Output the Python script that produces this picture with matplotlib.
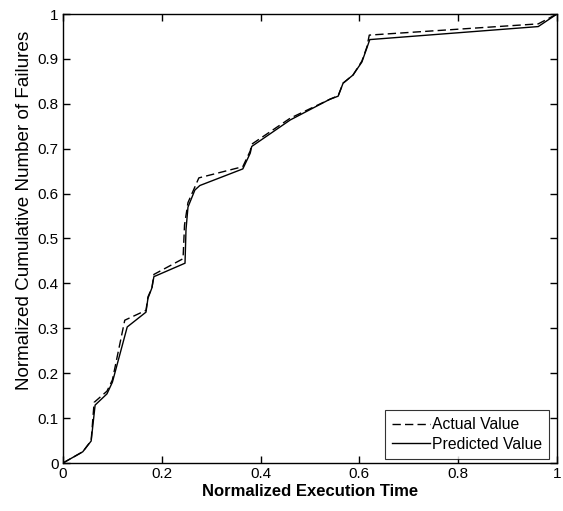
import matplotlib
matplotlib.use("Agg")
import matplotlib.pyplot as plt

x_pred = [0, 0.04, 0.057, 0.065, 0.089, 0.10, 0.13, 0.168, 0.172, 0.18, 0.184, 0.247, 0.249, 0.253,
          0.267, 0.277, 0.364, 0.379, 0.382, 0.46, 0.54, 0.557, 0.567, 0.587, 0.605, 0.615, 0.621, 0.962, 1.0]
y_pred = [0, 0.025, 0.049, 0.129, 0.154, 0.18, 0.303, 0.336, 0.367, 0.39, 0.415, 0.445, 0.52, 0.57,
          0.608, 0.618, 0.655, 0.69, 0.705, 0.764, 0.81, 0.817, 0.846, 0.864, 0.893, 0.924, 0.943, 0.972, 1.0]

x_act = [0, 0.04, 0.057, 0.063, 0.089, 0.10, 0.125, 0.168, 0.172, 0.18, 0.184, 0.243, 0.246, 0.253,
         0.267, 0.275, 0.364, 0.379, 0.382, 0.46, 0.54, 0.557, 0.567, 0.587, 0.605, 0.615, 0.62, 0.962, 1.0]
y_act = [0, 0.025, 0.05, 0.135, 0.16, 0.185, 0.318, 0.34, 0.37, 0.39, 0.42, 0.455, 0.53, 0.58,
         0.615, 0.635, 0.66, 0.695, 0.71, 0.768, 0.81, 0.818, 0.846, 0.864, 0.895, 0.926, 0.953, 0.978, 1.0]

xticks = [0, 0.2, 0.4, 0.6, 0.8, 1]
xtick_labels = ["0", "0.2", "0.4", "0.6", "0.8", "1"]
yticks = [0, 0.1, 0.2, 0.3, 0.4, 0.5, 0.6, 0.7, 0.8, 0.9, 1]
ytick_labels = ["0", "0.1", "0.2", "0.3", "0.4", "0.5", "0.6", "0.7", "0.8", "0.9", "1"]

plt.rcParams['font.family'] = ['Liberation Sans', 'DejaVu Sans']

fig = plt.figure(figsize=(5.63, 5.11), dpi=100)
ax = fig.add_axes([63/563, 48/511, 494/563, 449/511])

ax.plot(x_act, y_act, color='black', linestyle=(0, (6, 3)), linewidth=1.0, label='Actual Value')
ax.plot(x_pred, y_pred, color='black', linestyle='-', linewidth=1.0, label='Predicted Value')

ax.set_xlim(0, 1)
ax.set_ylim(0, 1)
ax.set_xticks(xticks)
ax.set_xticklabels(xtick_labels)
ax.set_yticks(yticks)
ax.set_yticklabels(ytick_labels)
ax.tick_params(direction='in', top=True, right=True, length=5, width=1, labelsize=11, pad=3)
for s in ax.spines.values():
    s.set_linewidth(1.0)

ax.set_xlabel('Normalized Execution Time', fontsize=12, fontweight='bold', labelpad=2)
ax.set_ylabel('Normalized Cumulative Number of Failures', fontsize=13.6)
ax.yaxis.set_label_coords(-0.061, 0.562)

leg = ax.legend(loc='lower right', bbox_to_anchor=(0.984, 0.009), fontsize=11.3, frameon=True,
                fancybox=False, edgecolor='black', handlelength=2.4, handletextpad=0.15,
                borderpad=0.45, labelspacing=0.3, borderaxespad=0)
leg.get_frame().set_linewidth(0.8)

fig.savefig('out.png', dpi=100)
